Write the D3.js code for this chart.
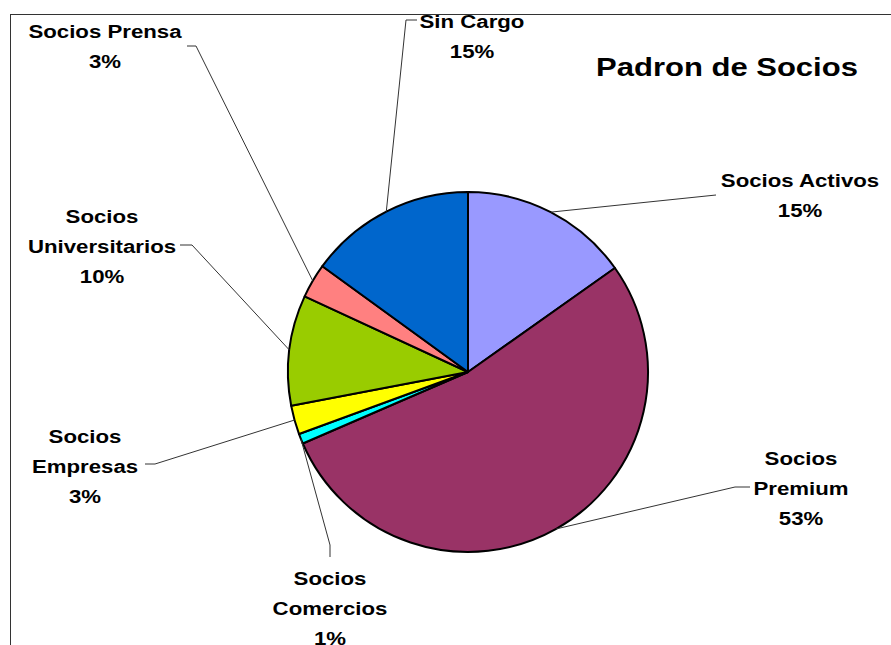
<!DOCTYPE html>
<html>
<head>
<meta charset="utf-8">
<script src="https://cdn.jsdelivr.net/npm/d3@7"></script>
<style>
  body { margin: 0; background: #fff; }
  text { font-family: "Liberation Sans", Arial, sans-serif; font-weight: bold; fill: #000; }
</style>
</head>
<body>
<div id="chart"></div>
<script>
// data, in slice order clockwise from 12 o'clock
const categories = ["Socios Activos", "Socios Premium", "Socios Comercios", "Socios Empresas",
                    "Socios Universitarios", "Socios Prensa", "Sin Cargo"];
const values = [152, 533, 9, 26, 99, 31, 150];
const colors = ["#9999FF", "#993366", "#00FFFF", "#FFFF00", "#99CC00", "#FF8080", "#0066CC"];
const labelLines = [
    ["Socios Activos"],
    ["Socios", "Premium"],
    ["Socios", "Comercios"],
    ["Socios", "Empresas"],
    ["Socios", "Universitarios"],
    ["Socios Prensa"],
    ["Sin Cargo"]
];

// label placement: text centre / first baseline, and the little elbow of the leader line
const labelPos = [
    { x: 800, y: 187, elbow: [[716, 195]] },
    { x: 801, y: 465, elbow: [[750, 487], [735, 487]] },
    { x: 330, y: 585, elbow: [[330, 557], [330, 545]] },
    { x: 85,  y: 443, elbow: [[145, 464], [155, 464]] },
    { x: 102, y: 223, elbow: [[180, 245], [192, 245]] },
    { x: 105, y: 38,  elbow: [[187, 46], [196, 46]] },
    { x: 472, y: 28,  elbow: [[417, 20], [406, 20]] }
];

const width = 891, height = 645;
const cx = 468, cy = 372, radius = 180;
const lineH = 30, stretch = 1.17;

let svg = d3.select("#chart")
    .append("svg")
    .attr("width", width)
    .attr("height", height);

// chart area border (runs off the right and bottom edges)
svg.append("rect")
    .attr("x", 10.5)
    .attr("y", 14.5)
    .attr("width", 950)
    .attr("height", 700)
    .attr("fill", "none")
    .attr("stroke", "#333")
    .attr("stroke-width", 1);

let total = d3.sum(values);
let rows = categories.map((c, i) => ({ name: c, value: values[i], color: colors[i], lines: labelLines[i], pos: labelPos[i] }));

let pie = d3.pie().sort(null).value(d => d.value);
let arc = d3.arc().innerRadius(0).outerRadius(radius);
let arcs = pie(rows);

let g = svg.append("g").attr("transform", `translate(${cx}, ${cy})`);

g.selectAll("path")
    .data(arcs)
    .join("path")
    .attr("d", arc)
    .attr("fill", d => d.data.color)
    .attr("stroke", "#000")
    .attr("stroke-width", 2)
    .attr("stroke-linejoin", "round");

// leader lines: from the label elbow to the middle of the slice's rim
svg.append("g")
    .selectAll("polyline")
    .data(arcs)
    .join("polyline")
    .attr("points", function (d) {
        let a = (d.startAngle + d.endAngle) / 2;
        let px = cx + radius * Math.sin(a);
        let py = cy - radius * Math.cos(a);
        let pts = d.data.pos.elbow.concat([[px, py]]);
        return pts.map(p => p.join(",")).join(" ");
    })
    .attr("fill", "none")
    .attr("stroke", "#333")
    .attr("stroke-width", 1);

// labels
let labels = svg.append("g")
    .selectAll("text")
    .data(arcs)
    .join("text")
    .attr("transform", d => `translate(${d.data.pos.x}, ${d.data.pos.y}) scale(${stretch}, 1)`)
    .attr("text-anchor", "middle")
    .style("font-size", "19px");

labels.each(function (d) {
    let t = d3.select(this);
    let lines = d.data.lines.concat([Math.round(d.data.value / total * 100) + "%"]);
    lines.forEach((l, i) => {
        t.append("tspan")
            .attr("x", 0)
            .attr("y", i * lineH)
            .text(l);
    });
});

// title
svg.append("text")
    .attr("transform", `translate(727, 76) scale(${stretch}, 1)`)
    .attr("text-anchor", "middle")
    .style("font-size", "26.5px")
    .text("Padron de Socios");
</script>
</body>
</html>
